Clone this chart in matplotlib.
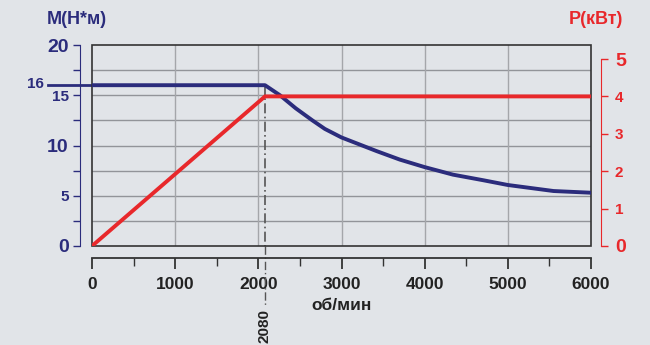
import numpy as np
import matplotlib.pyplot as plt
import matplotlib.patches as patches

plt.rcParams['font.family'] = ['Liberation Sans', 'DejaVu Sans']

# Data
rpm_m = [0, 2080, 2260, 2450, 2650, 2800, 3000, 3420, 3700, 4000, 4340, 4700, 5000, 5550, 6000]
torque = [16, 16, 15.0, 13.7, 12.5, 11.65, 10.8, 9.45, 8.6, 7.85, 7.1, 6.55, 6.07, 5.47, 5.3]
rpm_p = [0, 2080, 6000]
power = [0, 4, 4]
n_nom = 2080
m_nom = 16

navy = '#2b2c7c'
red = '#e8282b'
bg = '#e1e4e8'
PX = 0.72  # points per pixel at dpi 100

fig = plt.figure(figsize=(6.5, 3.45), dpi=100, facecolor=bg)
ax = fig.add_axes([92/650, 1 - 246/345, 499/650, 201/345])
ax.set_facecolor(bg)

ax.set_xlim(0, 6000)
ax.set_ylim(0, 20)

# grid
for v in np.arange(2.5, 20, 2.5):
    ax.axhline(v, color='#929499', lw=1.0, zorder=1)
for v in range(1000, 6000, 1000):
    ax.axvline(v, color='#a4a6aa', lw=1.0, zorder=1)

# box
ax.add_patch(patches.Rectangle((0, 0), 1, 1, transform=ax.transAxes, fill=False,
                               edgecolor='#333333', lw=1.2, zorder=3, clip_on=False))

ax2 = ax.twinx()
ax2.set_ylim(0, 5 * 201 / 187)

ax.plot(rpm_m, torque, color=navy, lw=2.8, zorder=5, solid_joinstyle='round')
ax2.plot(rpm_p, power, color=red, lw=2.8, zorder=4, solid_joinstyle='miter')

# 2080 marker
ax.plot([n_nom, n_nom], [m_nom, 0], color='#555555', lw=1.2, ls=(0, (6, 2, 1, 2)), zorder=2)
tr = ax.get_xaxis_transform()
ax.plot([n_nom, n_nom], [0, -0.30], color='#555555', lw=1.0, transform=tr, clip_on=False,
        ls=(0, (6, 2, 1, 2)))
ax.text(n_nom, -0.40, str(n_nom), transform=tr, rotation=90, ha='center', va='center',
        fontsize=11, fontweight='bold', color='#222222')

# 16 marker on the left
ytr = ax.get_yaxis_transform()
ax.plot([-0.088, 0], [m_nom, m_nom], color=navy, lw=2.0, transform=ytr, clip_on=False)
ax.text(-0.114, m_nom + 0.1, str(m_nom), transform=ytr, ha='center', va='center',
        fontsize=11, fontweight='bold', color=navy)

# spines
for s in ['top', 'right']:
    ax.spines[s].set_visible(False)
for s in ['top', 'left', 'bottom']:
    ax2.spines[s].set_visible(False)
ax.spines['left'].set_position(('outward', 12 * PX))
ax.spines['left'].set_bounds(0, 20)
ax.spines['left'].set_color(navy)
ax.spines['bottom'].set_position(('outward', 12 * PX))
ax.spines['bottom'].set_bounds(0, 6000)
ax.spines['bottom'].set_color('#333333')
ax.spines['bottom'].set_linewidth(1.3)
ax2.spines['right'].set_position(('outward', 10 * PX))
ax2.spines['right'].set_bounds(0, 5)
ax2.spines['right'].set_color(red)

# left ticks
ax.set_yticks([0, 5, 10, 15, 20])
ax.set_yticks(np.arange(2.5, 20, 5), minor=True)
ax.tick_params(axis='y', which='major', colors=navy, length=7 * PX, width=1, pad=3)
ax.tick_params(axis='y', which='minor', colors=navy, length=7 * PX, width=1)
for lbl, v in zip(ax.get_yticklabels(), [0, 5, 10, 15, 20]):
    lbl.set_fontweight('bold')
    lbl.set_fontsize(14 if v % 10 == 0 else 11)
    lbl.set_color(navy)

# bottom ticks
ax.set_xticks(range(0, 6001, 1000))
ax.set_xticks(range(500, 6000, 1000), minor=True)
ax.tick_params(axis='x', which='major', colors='#333333', length=11 * PX, width=1.3, pad=6,
               labelsize=12.5, labelcolor='#222222')
ax.tick_params(axis='x', which='minor', colors='#333333', length=8 * PX, width=1)
for lbl in ax.get_xticklabels():
    lbl.set_fontweight('bold')

# right ticks
ax2.set_yticks([0, 1, 2, 3, 4, 5])
ax2.tick_params(axis='y', colors=red, length=7 * PX, width=1, pad=5, labelsize=10)
for lbl, v in zip(ax2.get_yticklabels(), range(6)):
    lbl.set_fontweight('bold')
    lbl.set_fontsize(14 if v in (0, 5) else 11)

ax.set_xlabel('об/мин', fontsize=12.5, fontweight='bold', color='#222222', labelpad=4)

fig.text(77/650, 1 - 20/345, 'M(Н*м)', ha='center', va='center', fontsize=13,
         fontweight='bold', color=navy)
fig.text(596/650, 1 - 20/345, 'P(кВт)', ha='center', va='center', fontsize=13,
         fontweight='bold', color=red)

fig.savefig('out.png', dpi=100, facecolor=bg)
